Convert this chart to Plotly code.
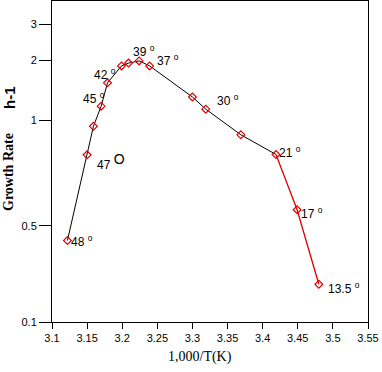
import plotly.graph_objects as go

# 1,000/T(K) and growth rate (h-1)
inv_temp = [3.122, 3.150, 3.159, 3.170, 3.179, 3.199, 3.209, 3.224, 3.239,
            3.300, 3.319, 3.369, 3.419, 3.449, 3.480]
growth = [0.254, 0.676, 0.937, 1.18, 1.54, 1.87, 1.93, 1.98, 1.87,
          1.31, 1.14, 0.850, 0.679, 0.361, 0.154]
split_index = 12  # red segment starts at 21 deg point

# temperature labels
temp_labels = ["48", "47", "45", "42", "39", "37", "30", "21", "17", "13.5"]
# label anchor positions (pixels in reference, left/center)
label_px = [(71, 241), (97, 161), (83, 98), (94, 74), (133, 51), (157, 60),
            (217, 100), (279, 152), (301, 213), (328, 288)]

y_tickvals = [0.1, 0.3, 1, 2, 3]
y_ticktext = ["0.1", "0.5", "1", "2", "3"]
x_tickvals = [3.1, 3.15, 3.2, 3.25, 3.3, 3.35, 3.4, 3.45, 3.5, 3.55]
x_ticktext = ["3.1", "3.15", "3.2", "3.25", "3.3", "3.35", "3.4", "3.45", "3.5", "3.55"]

W, H = 382, 372
L, R, T, B = 52, 14, 1, 50
pw, ph = W - L - R, H - T - B

fig = go.Figure()
fig.add_trace(go.Scatter(x=inv_temp[:split_index + 1], y=growth[:split_index + 1],
                         mode="lines", line=dict(color="black", width=1),
                         hoverinfo="skip", showlegend=False))
fig.add_trace(go.Scatter(x=inv_temp[split_index:], y=growth[split_index:],
                         mode="lines", line=dict(color="#e00000", width=1.3),
                         hoverinfo="skip", showlegend=False))
fig.add_trace(go.Scatter(x=inv_temp, y=growth, mode="markers",
                         marker=dict(symbol="diamond-open", size=6, color="#e00000",
                                     line=dict(width=1.2, color="#e00000")),
                         showlegend=False))

annotations = []
for lab, (px, py) in zip(temp_labels, label_px):
    if lab == "47":
        txt = "47 <sup><span style='font-size:14px'>O</span></sup>"
    else:
        txt = lab + " <sup>o</sup>"
    annotations.append(dict(xref="paper", yref="paper",
                            x=(px - L) / pw, y=(H - B - py) / ph,
                            xanchor="left", yanchor="middle", text=txt, showarrow=False,
                            font=dict(family="Liberation Sans, Arial", size=12, color="black"),
                            xshift=-2))

annotations.append(dict(xref="paper", yref="paper", x=(9 - L) / pw, y=(H - B - 172) / ph,
                        text="<b>Growth Rate</b>", textangle=-90, showarrow=False,
                        xanchor="center", yanchor="middle",
                        font=dict(family="Liberation Serif, Times New Roman", size=14, color="black")))
annotations.append(dict(xref="paper", yref="paper", x=(9 - L) / pw, y=(H - B - 98) / ph,
                        text="<b>h-1</b>", textangle=-90, showarrow=False,
                        xanchor="center", yanchor="middle",
                        font=dict(family="Liberation Sans, Arial", size=15, color="black")))
annotations.append(dict(xref="paper", yref="paper", x=(200 - L) / pw, y=(H - B - 357) / ph,
                        text="1,000/T(K)", showarrow=False,
                        xanchor="center", yanchor="middle",
                        font=dict(family="Liberation Serif, Times New Roman", size=14, color="black")))

fig.update_layout(
    width=W, height=H, margin=dict(l=L, r=R, t=T, b=B, autoexpand=False),
    paper_bgcolor="white", plot_bgcolor="white",
    annotations=annotations,
    xaxis=dict(range=[3.1, 3.55], tickvals=x_tickvals, ticktext=x_ticktext,
               showgrid=False, zeroline=False, showline=True, linecolor="black",
               linewidth=1, mirror=True, ticks="outside", ticklen=6, tickcolor="black",
               automargin=False,
               tickfont=dict(family="Liberation Sans, Arial", size=11, color="black")),
    yaxis=dict(type="log", range=[-1, 0.594], tickvals=y_tickvals, ticktext=y_ticktext,
               showgrid=False, zeroline=False, showline=True, linecolor="black",
               linewidth=1, mirror=True, ticks="outside", ticklen=12, tickcolor="black",
               automargin=False,
               tickfont=dict(family="Liberation Sans, Arial", size=11, color="black")),
)

fig.write_html("out.html", config={"displayModeBar": False},
               post_script="document.body.style.margin='0';document.body.style.padding='0';")
